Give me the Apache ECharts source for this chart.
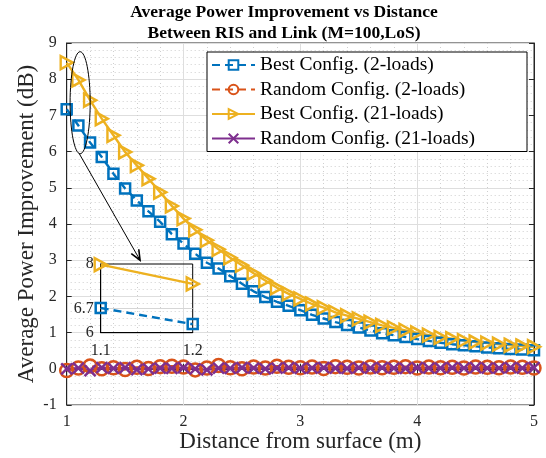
<!DOCTYPE html>
<html><head><meta charset="utf-8">
<script src="https://cdn.jsdelivr.net/npm/echarts@6/dist/echarts.min.js"></script>
<style>html,body{margin:0;padding:0;background:#fff}#c{width:546px;height:458px}</style>
</head><body><div id="c"></div>
<script>
// ---------- data ----------
const distance = [1.0,1.1,1.2,1.3,1.4,1.5,1.6,1.7,1.8,1.9,2.0,2.1,2.2,2.3,2.4,2.5,2.6,2.7,2.8,2.9,3.0,3.1,3.2,3.3,3.4,3.5,3.6,3.7,3.8,3.9,4.0,4.1,4.2,4.3,4.4,4.5,4.6,4.7,4.8,4.9,5.0];
const bestTwoLoads = [7.17,6.72,6.25,5.85,5.39,4.98,4.65,4.35,4.06,3.72,3.46,3.18,2.93,2.77,2.56,2.35,2.14,1.98,1.85,1.74,1.62,1.49,1.39,1.29,1.21,1.14,1.06,0.98,0.93,0.88,0.82,0.77,0.72,0.68,0.65,0.62,0.59,0.57,0.55,0.53,0.51];
const randomTwoLoads = [-0.05,0.02,0.08,0.0,0.03,-0.02,0.04,0.01,0.06,0.07,0.05,-0.03,0.02,0.09,0.03,0.0,0.05,0.02,0.07,0.04,0.03,0.05,0.01,0.06,0.04,0.02,0.05,0.03,0.04,0.06,0.02,0.05,0.03,0.04,0.02,0.05,0.04,0.03,0.05,0.04,0.02];
const bestTwentyOneLoads = [8.46,7.98,7.42,6.91,6.45,5.99,5.62,5.25,4.88,4.50,4.15,3.84,3.55,3.30,3.07,2.86,2.64,2.44,2.24,2.07,1.93,1.79,1.69,1.56,1.47,1.38,1.29,1.20,1.13,1.06,0.99,0.93,0.87,0.83,0.78,0.74,0.71,0.68,0.65,0.63,0.61];
const randomTwentyOneLoads = [0.0,0.02,-0.05,0.03,0.01,0.03,-0.02,0.0,0.02,0.01,0.03,0.0,-0.03,0.02,0.01,0.03,0.02,0.0,0.02,0.03,0.01,0.02,0.03,0.02,0.01,0.03,0.02,0.03,0.02,0.01,0.03,0.02,0.02,0.03,0.02,0.03,0.02,0.02,0.03,0.02,0.03];
const seriesNames = ['Best Config. (2-loads)','Random Config. (2-loads)','Best Config. (21-loads)','Random Config. (21-loads)'];
const xTickLabels = [1,2,3,4,5];
const yTickLabels = [-1,0,1,2,3,4,5,6,7,8,9];
const insetXTicks = [1.1,1.2];
const insetYTicks = [6,6.7,8];
const titleLines = ['Average Power Improvement vs Distance','Between RIS and Link (M=100,LoS)'];
const xAxisName = 'Distance from surface (m)';
const yAxisName = 'Average Power Improvement (dB)';

// ---------- style ----------
const FONT = 'Liberation Serif';
const COL = {blue:'#0072BD', orange:'#D95319', yellow:'#EDB120', purple:'#7E2F8E'};
const TRI = 'path://M0,0L10,5L0,10Z';
const CROSS = 'path://M0,0L10,10M10,0L0,10';
const AX = '#262626';

function pts(xs, ys){ return xs.map((x,i)=>[x, ys[i]]); }
function line(name, data, color, dashed, symbol, size, xi, yi, extra){
  return Object.assign({
    name, type:'line', data, xAxisIndex:xi, yAxisIndex:yi,
    symbol, symbolSize:size, showAllSymbol:true, clip:false,
    lineStyle:{color, width:2.4, type: dashed ? [8,5] : 'solid'},
    itemStyle:{color:'rgba(255,255,255,0)', borderColor:color, borderWidth:2.5},
    emphasis:{disabled:true}, animation:false
  }, extra||{});
}

const chart = echarts.init(document.getElementById('c'), null, {renderer:'canvas'});

const main = {left:66.7, top:43, width:467.3, height:362};
const inset = {left:100.7, top:264, width:92, height:68.7};

const tickLbl = {fontFamily:FONT, fontSize:16, color:AX};

const option = {
  backgroundColor:'#fff',
  animation:false,
  grid:[
    Object.assign({show:true, borderColor:AX, borderWidth:1, backgroundColor:'transparent'}, main),
    Object.assign({show:true, borderColor:'#000', borderWidth:1, backgroundColor:'transparent', z:5}, inset)
  ],
  legend:{
    data:seriesNames, orient:'vertical', left:207, top:52,
    padding:[3,52,3,4], itemWidth:43, itemHeight:12, itemGap:4.5,
    borderColor:'#000', borderWidth:1, backgroundColor:'#fff',
    textStyle:{fontFamily:FONT, fontSize:19.5, color:'#000', lineHeight:20},
    selectedMode:false, z:10
  },
  xAxis:[
    {type:'value', gridIndex:0, min:1, max:5, interval:1, position:'bottom',
     axisLine:{show:true, lineStyle:{color:AX}}, axisTick:{inside:true, length:5, lineStyle:{color:AX}},
     axisLabel:{...tickLbl, margin:9, formatter:v=>xTickLabels.includes(v)?String(v):''},
     splitLine:{show:true, lineStyle:{color:'#dedede', width:1}},
     minorTick:{show:false, splitNumber:5},
     minorSplitLine:{show:true, lineStyle:{color:'#cfcfcf', type:[1,3], width:1}},
     name:xAxisName, nameLocation:'middle', nameGap:25, nameMoveOverlap:false,
     nameTextStyle:{fontFamily:FONT, fontSize:23, color:AX}},
    {type:'value', gridIndex:0, min:1, max:5, interval:1, position:'top',
     axisLine:{show:true, lineStyle:{color:AX}}, axisTick:{inside:true, length:5, lineStyle:{color:AX}},
     axisLabel:{show:false}, splitLine:{show:false}},
    {type:'value', gridIndex:1, min:1.1, max:1.2,
     axisLine:{show:true, lineStyle:{color:'#000'}},
     axisTick:{show:false, customValues:insetXTicks},
     axisLabel:{...tickLbl, margin:10, customValues:insetXTicks, formatter:v=>v.toFixed(1)},
     splitLine:{show:false}}
  ],
  yAxis:[
    {type:'value', gridIndex:0, min:-1, max:9, interval:1, position:'left',
     axisLine:{show:true, lineStyle:{color:AX}}, axisTick:{inside:true, length:5, lineStyle:{color:AX}},
     axisLabel:{...tickLbl, margin:10, formatter:v=>yTickLabels.includes(v)?String(v):''},
     splitLine:{show:true, lineStyle:{color:'#dedede', width:1}},
     minorTick:{show:false, splitNumber:5},
     minorSplitLine:{show:true, lineStyle:{color:'#cfcfcf', type:[1,3], width:1}},
     name:yAxisName, nameLocation:'middle', nameGap:28, nameMoveOverlap:false,
     nameTextStyle:{fontFamily:FONT, fontSize:23, color:AX}},
    {type:'value', gridIndex:0, min:-1, max:9, interval:1, position:'right',
     axisLine:{show:true, lineStyle:{color:AX}}, axisTick:{inside:true, length:5, lineStyle:{color:AX}},
     axisLabel:{show:false}, splitLine:{show:false}},
    {type:'value', gridIndex:1, min:6, max:8,
     axisLine:{show:true, lineStyle:{color:'#000'}},
     axisTick:{show:false, customValues:insetYTicks},
     axisLabel:{...tickLbl, margin:7, customValues:insetYTicks, formatter:v=>String(v)},
     splitLine:{show:false}}
  ],
  series:[
    line(seriesNames[0], pts(distance,bestTwoLoads), COL.blue, true, 'rect', 10, 0, 0),
    line(seriesNames[1], pts(distance,randomTwoLoads), COL.orange, true, 'circle', 13, 0, 0),
    line(seriesNames[2], pts(distance,bestTwentyOneLoads), COL.yellow, false, TRI, [12,13], 0, 0),
    line(seriesNames[3], pts(distance,randomTwentyOneLoads), COL.purple, false, CROSS, 11, 0, 0),
    line('inset-best-21', pts(insetXTicks, bestTwentyOneLoads.slice(1,3)), COL.yellow, false, TRI, [12,13], 2, 2, {z:6}),
    line('inset-best-2', pts(insetXTicks, bestTwoLoads.slice(1,3)), COL.blue, true, 'rect', 10, 2, 2, {z:6,
      markLine:{silent:true, symbol:'none', animation:false, label:{show:false},
        lineStyle:{color:'#d6d6d6', type:'solid', width:1}, data:[{yAxis:insetYTicks[1]}]}})
  ]
};
chart.setOption(option);

// ---------- annotations (title, ellipse, arrow) ----------
const toPx = (x,y)=>chart.convertToPixel({xAxisIndex:0, yAxisIndex:0}, [x,y]);
const ellC = toPx(1.115, 7.35), ellX = toPx(1.201, 7.35), ellY = toPx(1.115, 8.76);
const aS = toPx(1.108, 5.94), aE = toPx(1.628, 3.0);
const ang = Math.atan2(aE[1]-aS[1], aE[0]-aS[0]);
const hl = 11, ha = 0.4;
const h1 = [aE[0]-hl*Math.cos(ang-ha), aE[1]-hl*Math.sin(ang-ha)];
const h2 = [aE[0]-hl*Math.cos(ang+ha), aE[1]-hl*Math.sin(ang+ha)];

chart.setOption({graphic:[
  {type:'text', x:284, y:2, z:20, style:{text:titleLines.join('\n'), font:'bold 17.5px "Liberation Serif"', fill:'#000', textAlign:'center', lineHeight:21}},
  {type:'ellipse', z:20, shape:{cx:ellC[0], cy:ellC[1], rx:Math.abs(ellX[0]-ellC[0]), ry:Math.abs(ellY[1]-ellC[1])}, style:{fill:'none', stroke:'#000', lineWidth:1}},
  {type:'line', z:20, shape:{x1:aS[0], y1:aS[1], x2:aE[0], y2:aE[1]}, style:{stroke:'#000', lineWidth:1}},
  {type:'polyline', z:20, shape:{points:[h1, aE, h2]}, style:{stroke:'#000', lineWidth:1.6, fill:'none'}}
]});
</script>
</body></html>
